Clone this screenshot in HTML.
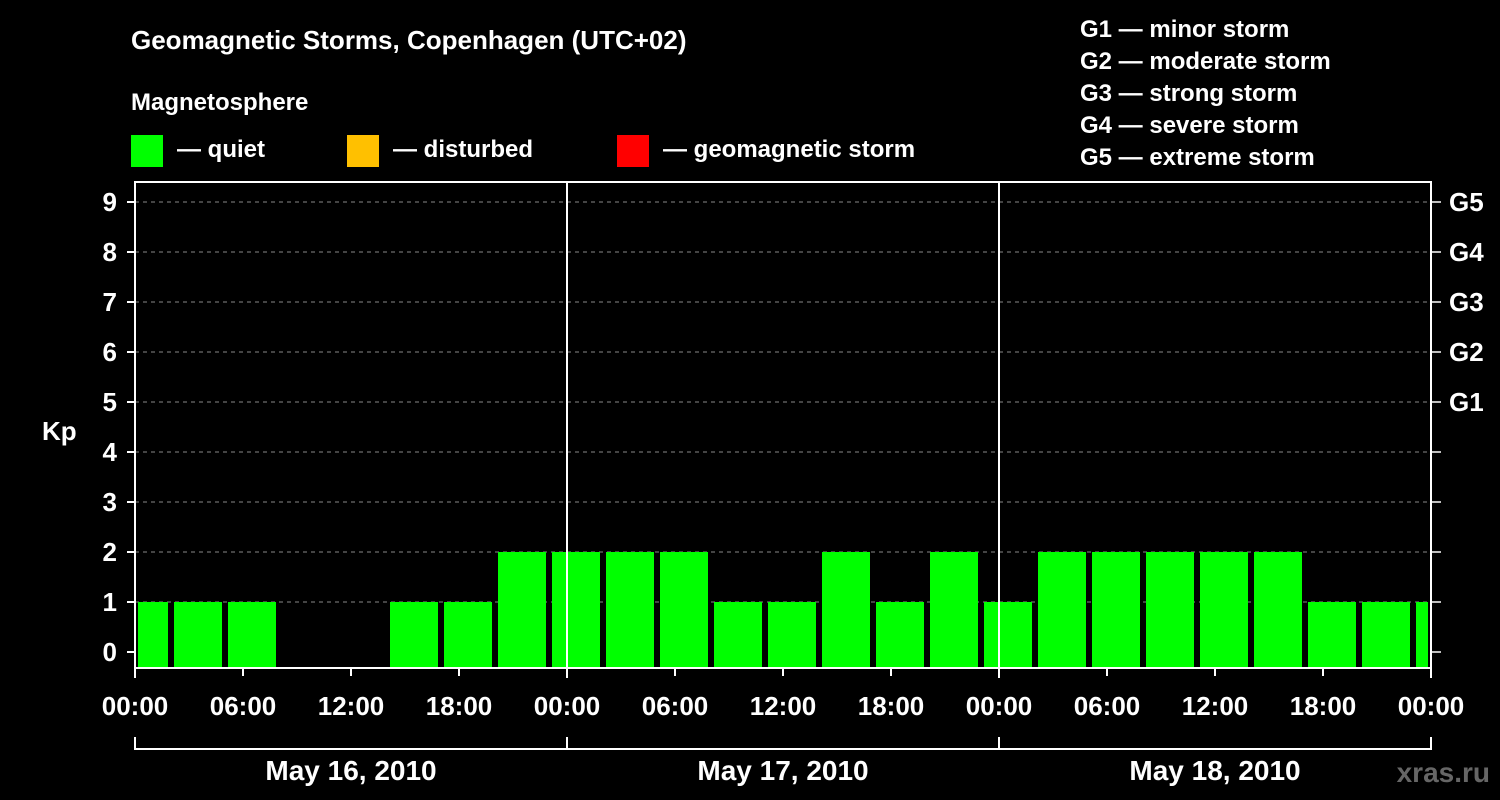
<!DOCTYPE html>
<html><head><meta charset="utf-8"><style>
body{margin:0;background:#000;}
svg{display:block;font-family:"Liberation Sans",sans-serif;font-weight:bold;}
</style></head><body>
<svg id="c" width="1500" height="800" viewBox="0 0 1500 800">
<rect width="1500" height="800" fill="#000"/>
<text x="131" y="49" fill="#fff" font-size="26">Geomagnetic Storms, Copenhagen (UTC+02)</text>
<text x="131" y="110" fill="#fff" font-size="24">Magnetosphere</text>
<g><rect x="131" y="135" width="32" height="32" fill="#00ff00"/><text x="177" y="157" fill="#fff" font-size="24">— quiet</text></g>
<g><rect x="347" y="135" width="32" height="32" fill="#ffc000"/><text x="393" y="157" fill="#fff" font-size="24">— disturbed</text></g>
<g><rect x="617" y="135" width="32" height="32" fill="#ff0000"/><text x="663" y="157" fill="#fff" font-size="24">— geomagnetic storm</text></g>
<g fill="#fff" font-size="24">
<text x="1080" y="37">G1 — minor storm</text><text x="1080" y="69">G2 — moderate storm</text><text x="1080" y="101">G3 — strong storm</text><text x="1080" y="133">G4 — severe storm</text><text x="1080" y="165">G5 — extreme storm</text></g>
<text x="42" y="440" fill="#fff" font-size="26">Kp</text>
<text x="1490" y="782" fill="#666" font-size="28" text-anchor="end">xras.ru</text>
<g id="plot"></g>
</svg>
<script>
// Kp 3-hour values (UTC intervals), starting 2010-05-15 21:00 UTC (= 23:00 local)
const kpValues=[1,1,1,0,0,1,1,2,2,2,2,1,1,2,1,2,1,2,2,2,2,2,1,1,1];
const startOffsetHours=-1;
const yTicks=[0,1,2,3,4,5,6,7,8,9];
const gLabels=["G1","G2","G3","G4","G5"];
const gLevels=[5,6,7,8,9];
const xTickLabels=["00:00","06:00","12:00","18:00","00:00","06:00","12:00","18:00","00:00","06:00","12:00","18:00","00:00"];
const dayLabels=["May 16, 2010","May 17, 2010","May 18, 2010"];

const L=135,R=1431,T=182,B=668,totalH=72;
const x=h=>L+(R-L)*h/totalH;
const y=v=>652-50*v;
const NS="http://www.w3.org/2000/svg";
const g=document.getElementById('plot');
function mk(t,a){const e=document.createElementNS(NS,t);for(const k in a)e.setAttribute(k,a[k]);g.appendChild(e);return e;}

yTicks.forEach(v=>{
  if(v>0){const gl=mk('line',{x1:L,x2:R,y1:y(v),y2:y(v),stroke:'#888','stroke-dasharray':'4,4','stroke-width':1});
  
  }
  const t=mk('line',{x1:L-8,x2:L,y1:y(v),y2:y(v),stroke:'#fff','stroke-width':2});
  
  
  const rt=mk('line',{x1:R,x2:R+10,y1:y(v),y2:y(v),stroke:'#fff','stroke-width':1.5});
  
  
  const lb=mk('text',{x:L-18,y:y(v)+9,fill:'#fff','font-size':26,'text-anchor':'end'});
  lb.textContent=v;
  
  
});
gLabels.forEach((s,i)=>{
  const t=mk('text',{x:1449,y:y(gLevels[i])+9,fill:'#fff','font-size':26});
  t.textContent=s;
  
  
});
kpValues.forEach((v,i)=>{
  let h0=Math.max(0,startOffsetHours+i*3),h1=Math.min(totalH,startOffsetHours+i*3+3);
  if(h1<=h0||v<=0)return;
  const b=mk('rect',{x:x(h0)+3,y:y(v),width:x(h1)-x(h0)-6,height:B-y(v),fill:'#00ff00'});
  
  
});
[24,48].forEach(h=>{
  const d=mk('line',{x1:x(h),x2:x(h),y1:T,y2:B,stroke:'#fff','stroke-width':2});
  
  
});
const fr=mk('rect',{x:L,y:T,width:R-L,height:B-T,fill:'none',stroke:'#fff','stroke-width':2});


xTickLabels.forEach((s,i)=>{
  const h=i*6;
  const t=mk('line',{x1:x(h),x2:x(h),y1:B,y2:B+(i%4==0?10:8),stroke:'#fff','stroke-width':2});
  
  
  const lb=mk('text',{x:x(h),y:715,fill:'#fff','font-size':26,'text-anchor':'middle'});
  lb.textContent=s;
  
  
});
const br=mk('path',{d:`M${x(0)} 737V749H${x(72)}V737`,fill:'none',stroke:'#fff','stroke-width':2});


[24,48].forEach(h=>{
  const t=mk('line',{x1:x(h),x2:x(h),y1:737,y2:749,stroke:'#fff','stroke-width':2});
  
  
});
dayLabels.forEach((s,i)=>{
  const t=mk('text',{x:x(i*24+12),y:780,fill:'#fff','font-size':28,'text-anchor':'middle'});
  t.textContent=s;
  
  
});
</script>
</body></html>
